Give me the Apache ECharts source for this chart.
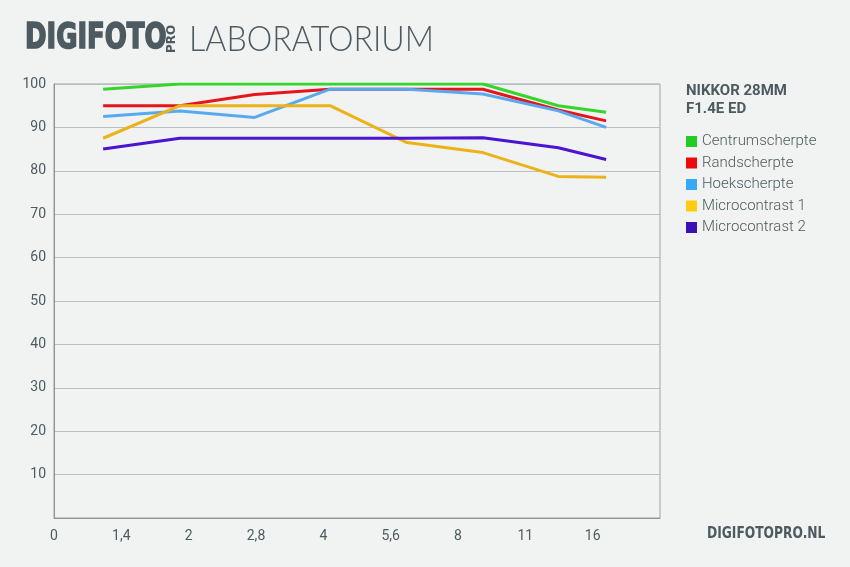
<!DOCTYPE html>
<html><head><meta charset="utf-8">
<script src="https://cdn.jsdelivr.net/npm/echarts@6/dist/echarts.min.js"></script>
<style>html,body{margin:0;padding:0;background:#f1f3f2;}#c{width:850px;height:567px;}</style>
</head><body><div id="c"></div>
<script>
// x tick labels (category axis, last slot empty)
const xLabels = ['0','1,4','2','2,8','4','5,6','8','11','16',''];
// x positions of the measurement points, in tick-label units
const xPos = [0.73, 1.87, 2.98, 4.10, 5.24, 6.37, 7.49, 8.20];
const seriesNames = ['Centrumscherpte','Randscherpte','Hoekscherpte','Microcontrast 1','Microcontrast 2'];
const centrum = [98.8, 100, 100, 100, 100, 100, 95, 93.5];
const rand    = [95, 95, 97.6, 98.8, 98.8, 98.8, 94, 91.5];
const hoek    = [92.5, 93.8, 92.3, 98.8, 98.8, 97.7, 93.8, 90];
const micro1  = [87.5, 95, 95, 95, 86.5, 84.2, 78.7, 78.5];
const micro2  = [85, 87.5, 87.5, 87.5, 87.5, 87.6, 85.3, 82.6];
const yTicks = [0,10,20,30,40,50,60,70,80,90,100];

const lineColors = ['#35d62c','#e8141c','#58aaf0','#ebb21a','#4a14d0'];
const legendColors = ['#22cc22','#ee0a0a','#36aaf8','#ffcc11','#3a10b8'];
const all = [centrum, rand, hoek, micro1, micro2];
const txt = '#4d5a60';
const FONT = 'Roboto, "DejaVu Sans", sans-serif';

const chart = echarts.init(document.getElementById('c'));
chart.setOption({
  backgroundColor: '#f1f3f2',
  animation: false,
  title: {
    text: 'NIKKOR 28MM\nF1.4E ED',
    left: 681, top: 77,
    textStyle: {color: txt, fontSize: 15, fontWeight: 'bold', lineHeight: 18, fontFamily: FONT}
  },
  legend: {
    orient: 'vertical', left: 681, top: 129, itemGap: 6.5,
    itemWidth: 11, itemHeight: 11, icon: 'rect',
    textStyle: {color: txt, fontSize: 15, fontFamily: FONT, fontWeight: 300},
    data: seriesNames.map((n,i)=>({name:n, itemStyle:{color:legendColors[i]}}))
  },
  grid: {left: 54, right: 190, top: 84, bottom: 49, show: true, borderColor: '#9aa3a6', borderWidth: 1, backgroundColor: 'transparent'},
  xAxis: [{
    type: 'category', data: xLabels, boundaryGap: false,
    axisLine: {lineStyle: {color: '#8a9599'}}, axisTick: {show: false},
    axisLabel: {color: txt, fontSize: 14, fontFamily: FONT, margin: 11},
    splitLine: {show: false}
  }, {
    type: 'value', min: 0, max: 9, show: false
  }],
  yAxis: {
    type: 'value', min: yTicks[0], max: yTicks[yTicks.length-1], interval: 10,
    axisLine: {show: true, lineStyle: {color: '#8a9599'}}, axisTick: {show: false},
    axisLabel: {color: txt, fontSize: 14, fontFamily: FONT, margin: 8,
      formatter: v => (v === 0 ? '' : String(v))},
    splitLine: {lineStyle: {color: '#b8bfc2', width: 1}}
  },
  series: all.map((d,i)=>({
    name: seriesNames[i], type: 'line', xAxisIndex: 1,
    data: d.map((v,j)=>[xPos[j], v]),
    symbol: 'none', lineStyle: {width: 3, color: lineColors[i]},
    itemStyle: {color: lineColors[i]}
  })),
  graphic: [
    {type:'text', x: 25, y: 21, scaleX: 0.80, style:{text:'DIGIFOTO', fill:'#4d5a60', stroke:'#4d5a60', lineWidth:1.6, font:'900 36px "DejaVu Sans Condensed", "DejaVu Sans", sans-serif'}},
    {type:'text', x: 166, y: 53, rotation: Math.PI/2, style:{text:'PRO', fill:'#4d5a60', font:'bold 12px "DejaVu Sans", sans-serif'}},
    {type:'text', x: 189, y: 22, scaleX: 0.92, style:{text:'LABORATORIUM', fill:'#4d5a60', font:'300 35px Lato, Roboto, sans-serif'}},
    {type:'text', x: 707, y: 527, scaleX: 0.91, style:{text:'DIGIFOTOPRO.NL', fill:'#4d5a60', font:'bold 15px "DejaVu Sans Condensed", "DejaVu Sans", sans-serif'}}
  ]
});
</script></body></html>
